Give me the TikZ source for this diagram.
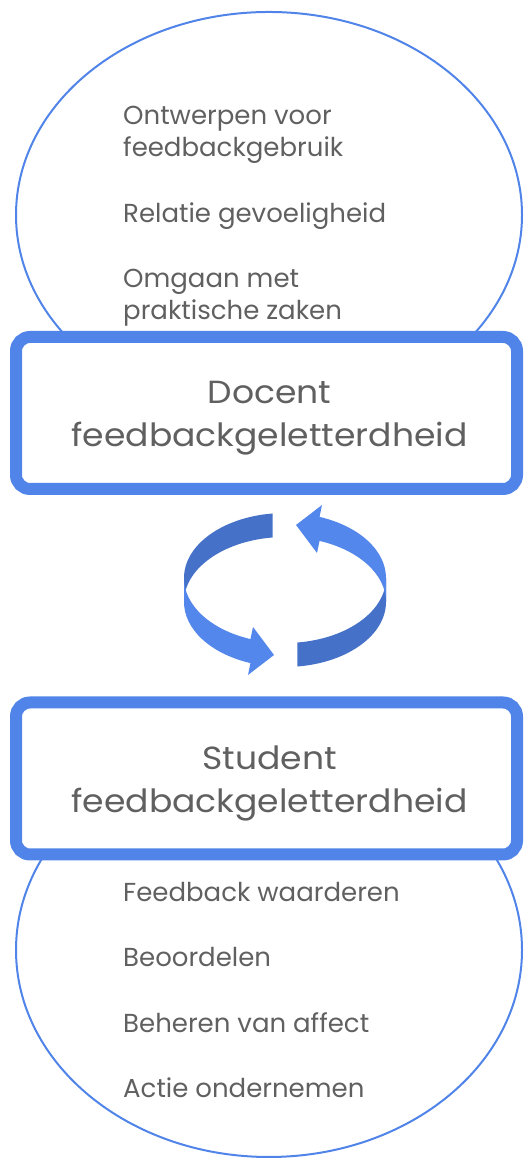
\documentclass[tikz,border=0pt]{standalone}
\usepackage{fontspec}
\setmainfont{Poppins}
\newfontfamily\wideface{Poppins}[FakeStretch=1.08]
\usetikzlibrary{shapes.geometric}
\definecolor{LineBlue}{HTML}{5184E8}
\definecolor{ArrowBlue}{HTML}{5487EB}
\definecolor{ArrowDark}{HTML}{4571C9}
\definecolor{TextGray}{HTML}{606060}

\begin{document}
\begin{tikzpicture}[x=1pt,y=1pt,
    ring/.style={draw=LineBlue,line width=2pt,ellipse,inner sep=0pt},
    panel/.style={draw=LineBlue,line width=12pt,rounded corners=14pt,fill=white,
        minimum width=501pt,minimum height=152pt},
    title/.style={align=center,inner sep=0pt,text=TextGray,
        font=\wideface\fontsize{32}{43}\selectfont},
    item/.style={anchor=base west,align=left,inner sep=0pt,text=TextGray,
        font=\fontsize{26}{32}\selectfont}]
    \useasboundingbox (0,0) rectangle (527,1158);
%   Ellipses
    \node[ring,minimum width=506pt,minimum height=406pt] (docring) at (269,943) {};
    \node[ring,minimum width=506pt,minimum height=414pt] (studring) at (269,208) {};

    \node[item] (ontwerpen) at (123,1001) {Ontwerpen voor\\feedbackgebruik};
    \node[item] (relatie) at (123,935) {Relatie gevoeligheid};
    \node[item] (omgaan) at (123,838) {Omgaan met\\praktische zaken};

    \node[item] (waarderen) at (123,256) {Feedback waarderen};
    \node[item] (beoordelen) at (123,191) {Beoordelen};
    \node[item] (affect) at (123,125) {Beheren van affect};
    \node[item] (actie) at (123,60) {Actie ondernemen};

%   Boxes
    \node[panel] (docent) at (266.5,745) {};
    \node[title] (docenttitle) at ([xshift=3pt,yshift=-5pt]docent.center) {Docent\\feedbackgeletterdheid};
    \node[panel] (student) at (266.5,379.5) {};
    \node[title] (studenttitle) at ([xshift=3pt,yshift=-5pt]student.center) {Student\\feedbackgeletterdheid};

%   Cycle
    \fill[ArrowDark] (285,580) ++(97:101 and 65)
        arc[start angle=97,end angle=180,x radius=101,y radius=65] -- ++(0,-24)
        arc[start angle=180,end angle=97,x radius=101,y radius=65] -- cycle;
    \fill[ArrowBlue] (184,580)
        arc[start angle=180,end angle=250,x radius=101,y radius=65]
        -- (253,531) -- (274,503) -- (248,483) -- (250.46,494.9)
        arc[start angle=250,end angle=180,x radius=101,y radius=65] -- cycle;
    \fill[ArrowDark] (285,556) ++(277:101 and 65)
        arc[start angle=277,end angle=360,x radius=101,y radius=65] -- ++(0,24)
        arc[start angle=360,end angle=277,x radius=101,y radius=65] -- cycle;
    \fill[ArrowBlue] (386,556)
        arc[start angle=0,end angle=70,x radius=101,y radius=65]
        -- (317,605) -- (296,633) -- (322,653) -- (319.54,641.1)
        arc[start angle=70,end angle=0,x radius=101,y radius=65] -- cycle;
\end{tikzpicture}
\end{document}
